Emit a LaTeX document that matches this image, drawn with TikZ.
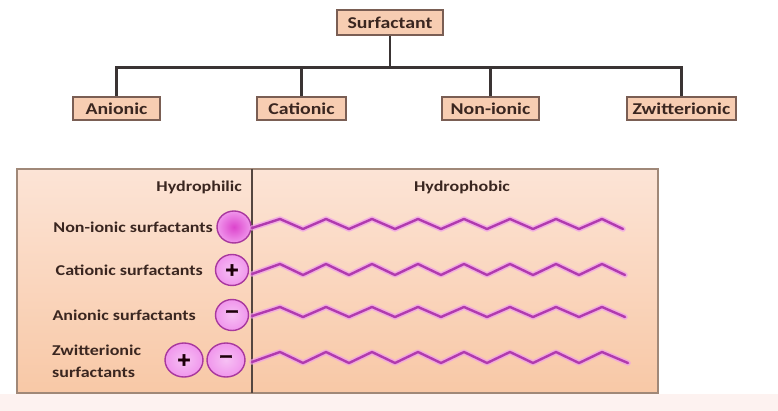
\documentclass[tikz,border=0pt]{standalone}
\usepackage{fontspec}
\newfontfamily\labfont[FakeStretch=1.2]{Carlito}
\newfontfamily\signfont[FakeBold=2.5]{DejaVu Sans}
\usetikzlibrary{calc}
\definecolor{boxfill}{HTML}{F7CDB2}
\definecolor{boxdraw}{HTML}{7A5E54}
\definecolor{txt}{HTML}{3A2620}
\definecolor{treeline}{HTML}{3A3434}
\definecolor{paneltop}{HTML}{FCE4D6}
\definecolor{panelbot}{HTML}{F8C8A6}
\definecolor{paneldraw}{HTML}{A08878}
\definecolor{chaindark}{HTML}{B03AAE}
\definecolor{chainglow}{HTML}{F09CEC}
\definecolor{headin}{HTML}{DC44CC}
\definecolor{headout}{HTML}{F096EC}
\definecolor{headdraw}{HTML}{A8389E}
\tikzset{
  treebox/.style={draw=boxdraw, line width=1.5pt, fill=boxfill, text=txt,
    font=\labfont\bfseries\fontsize{16.5}{18}\selectfont, minimum height=23pt,
    inner xsep=2pt, inner ysep=0pt},
  treeedge/.style={draw=treeline, line width=2.6pt},
  rowlabel/.style={text=txt, font=\labfont\bfseries\fontsize{15}{22}\selectfont, inner sep=0pt},
  headtitle/.style={text=txt, font=\labfont\bfseries\fontsize{15}{16}\selectfont, inner sep=0pt},
  headball/.style={draw=headdraw, line width=1.4pt},
  sign/.style={text=black!85!purple, font=\signfont\bfseries\fontsize{18}{18}\selectfont, inner sep=0pt},
  chainglowst/.style={draw=chainglow, line width=5.5pt, line join=round, line cap=round, opacity=0.7},
  chainst/.style={draw=chaindark, line width=2.4pt, line join=round, line cap=round},
}
\begin{document}
\begin{tikzpicture}[x=1pt,y=-1pt]
\useasboundingbox (0,0) rectangle (778,411);
\fill[white] (0,0) rectangle (778,411);
\fill[color={rgb,255:red,253;green,242;blue,240}] (0,394) rectangle (778,411);

% tree
\node[treebox, minimum width=106pt, minimum height=25pt] (sur) at (390,22.5) {Surfactant};
\node[treebox, minimum width=87pt] (ani) at (116.5,108.5) {Anionic};
\node[treebox, minimum width=89pt] (cat) at (301.5,108.5) {Cationic};
\node[treebox, minimum width=97pt] (non) at (490.5,108.5) {Non-ionic};
\node[treebox, minimum width=109pt] (zwi) at (681.5,108.5) {Zwitterionic};
\coordinate (bus) at (0,67.5);
\draw[treeedge] (sur.south) -- (sur.south |- bus);
\draw[treeedge, line join=miter] (ani.north) -- (ani.north |- bus) -- (zwi.north |- bus) -- (zwi.north);
\draw[treeedge] (cat.north) -- (cat.north |- bus);
\draw[treeedge] (non.north) -- (non.north |- bus);

% panel
\shade[top color=paneltop, bottom color=panelbot] (17,169) rectangle (658,393);
\draw[paneldraw, line width=1.2pt] (17,169) rectangle (658,393);
\coordinate (dtop) at (252,169);
\coordinate (dbot) at (252,393);
\draw[color={rgb,255:red,84;green,70;blue,64}, line width=1.8pt] (dtop) -- (dbot);

\node[headtitle, anchor=east] (hphil) at (242,187) {Hydrophilic};
\node[headtitle] (hphob) at (462,187) {Hydrophobic};

% rows
\node[rowlabel, anchor=east] (l1) at (213,227) {Non-ionic surfactants};
\node[rowlabel, anchor=east] (l2) at (203,270) {Cationic surfactants};
\node[rowlabel, anchor=east] (l3) at (196,315) {Anionic surfactants};
\node[rowlabel, anchor=west, align=left] (l4) at (52,361) {Zwitterionic\\surfactants};

\draw[headball, inner color=headin, outer color=headout] (234,227) ellipse [x radius=17, y radius=16];
\draw[headball, inner color=headout!60!white, outer color=headout] (232,270) ellipse [x radius=16.5, y radius=15.5];
\node[sign] (b2) at (232,270) {+};
\draw[headball, inner color=headout!60!white, outer color=headout] (232,315) ellipse [x radius=16.5, y radius=15.5];
\node[sign] (b3) at (232,314) {−};
\draw[headball, inner color=headout!60!white, outer color=headout] (184,360) ellipse [x radius=19, y radius=17];
\node[sign] (b4) at (184,360) {+};
\draw[headball, inner color=headout!60!white, outer color=headout] (226,360) ellipse [x radius=19, y radius=17];
\node[sign] (b5) at (226,359) {−};

% chains
\foreach \yp/\yt/\xe [count=\r] in {219/229/623, 264/275/625, 307/317/625, 352/363/628}{
  \coordinate (s\r) at (252,\yt-1);
  \coordinate (e\r) at (\xe,\yt);
  \foreach \st in {chainglowst, chainst}{
    \draw[\st] (s\r) \foreach \k in {0,...,6}{ -- (280+46*\k,\yp) -- (303+46*\k,\yt)} -- (602,\yp) -- (e\r);
  }
}
\end{tikzpicture}
\end{document}
